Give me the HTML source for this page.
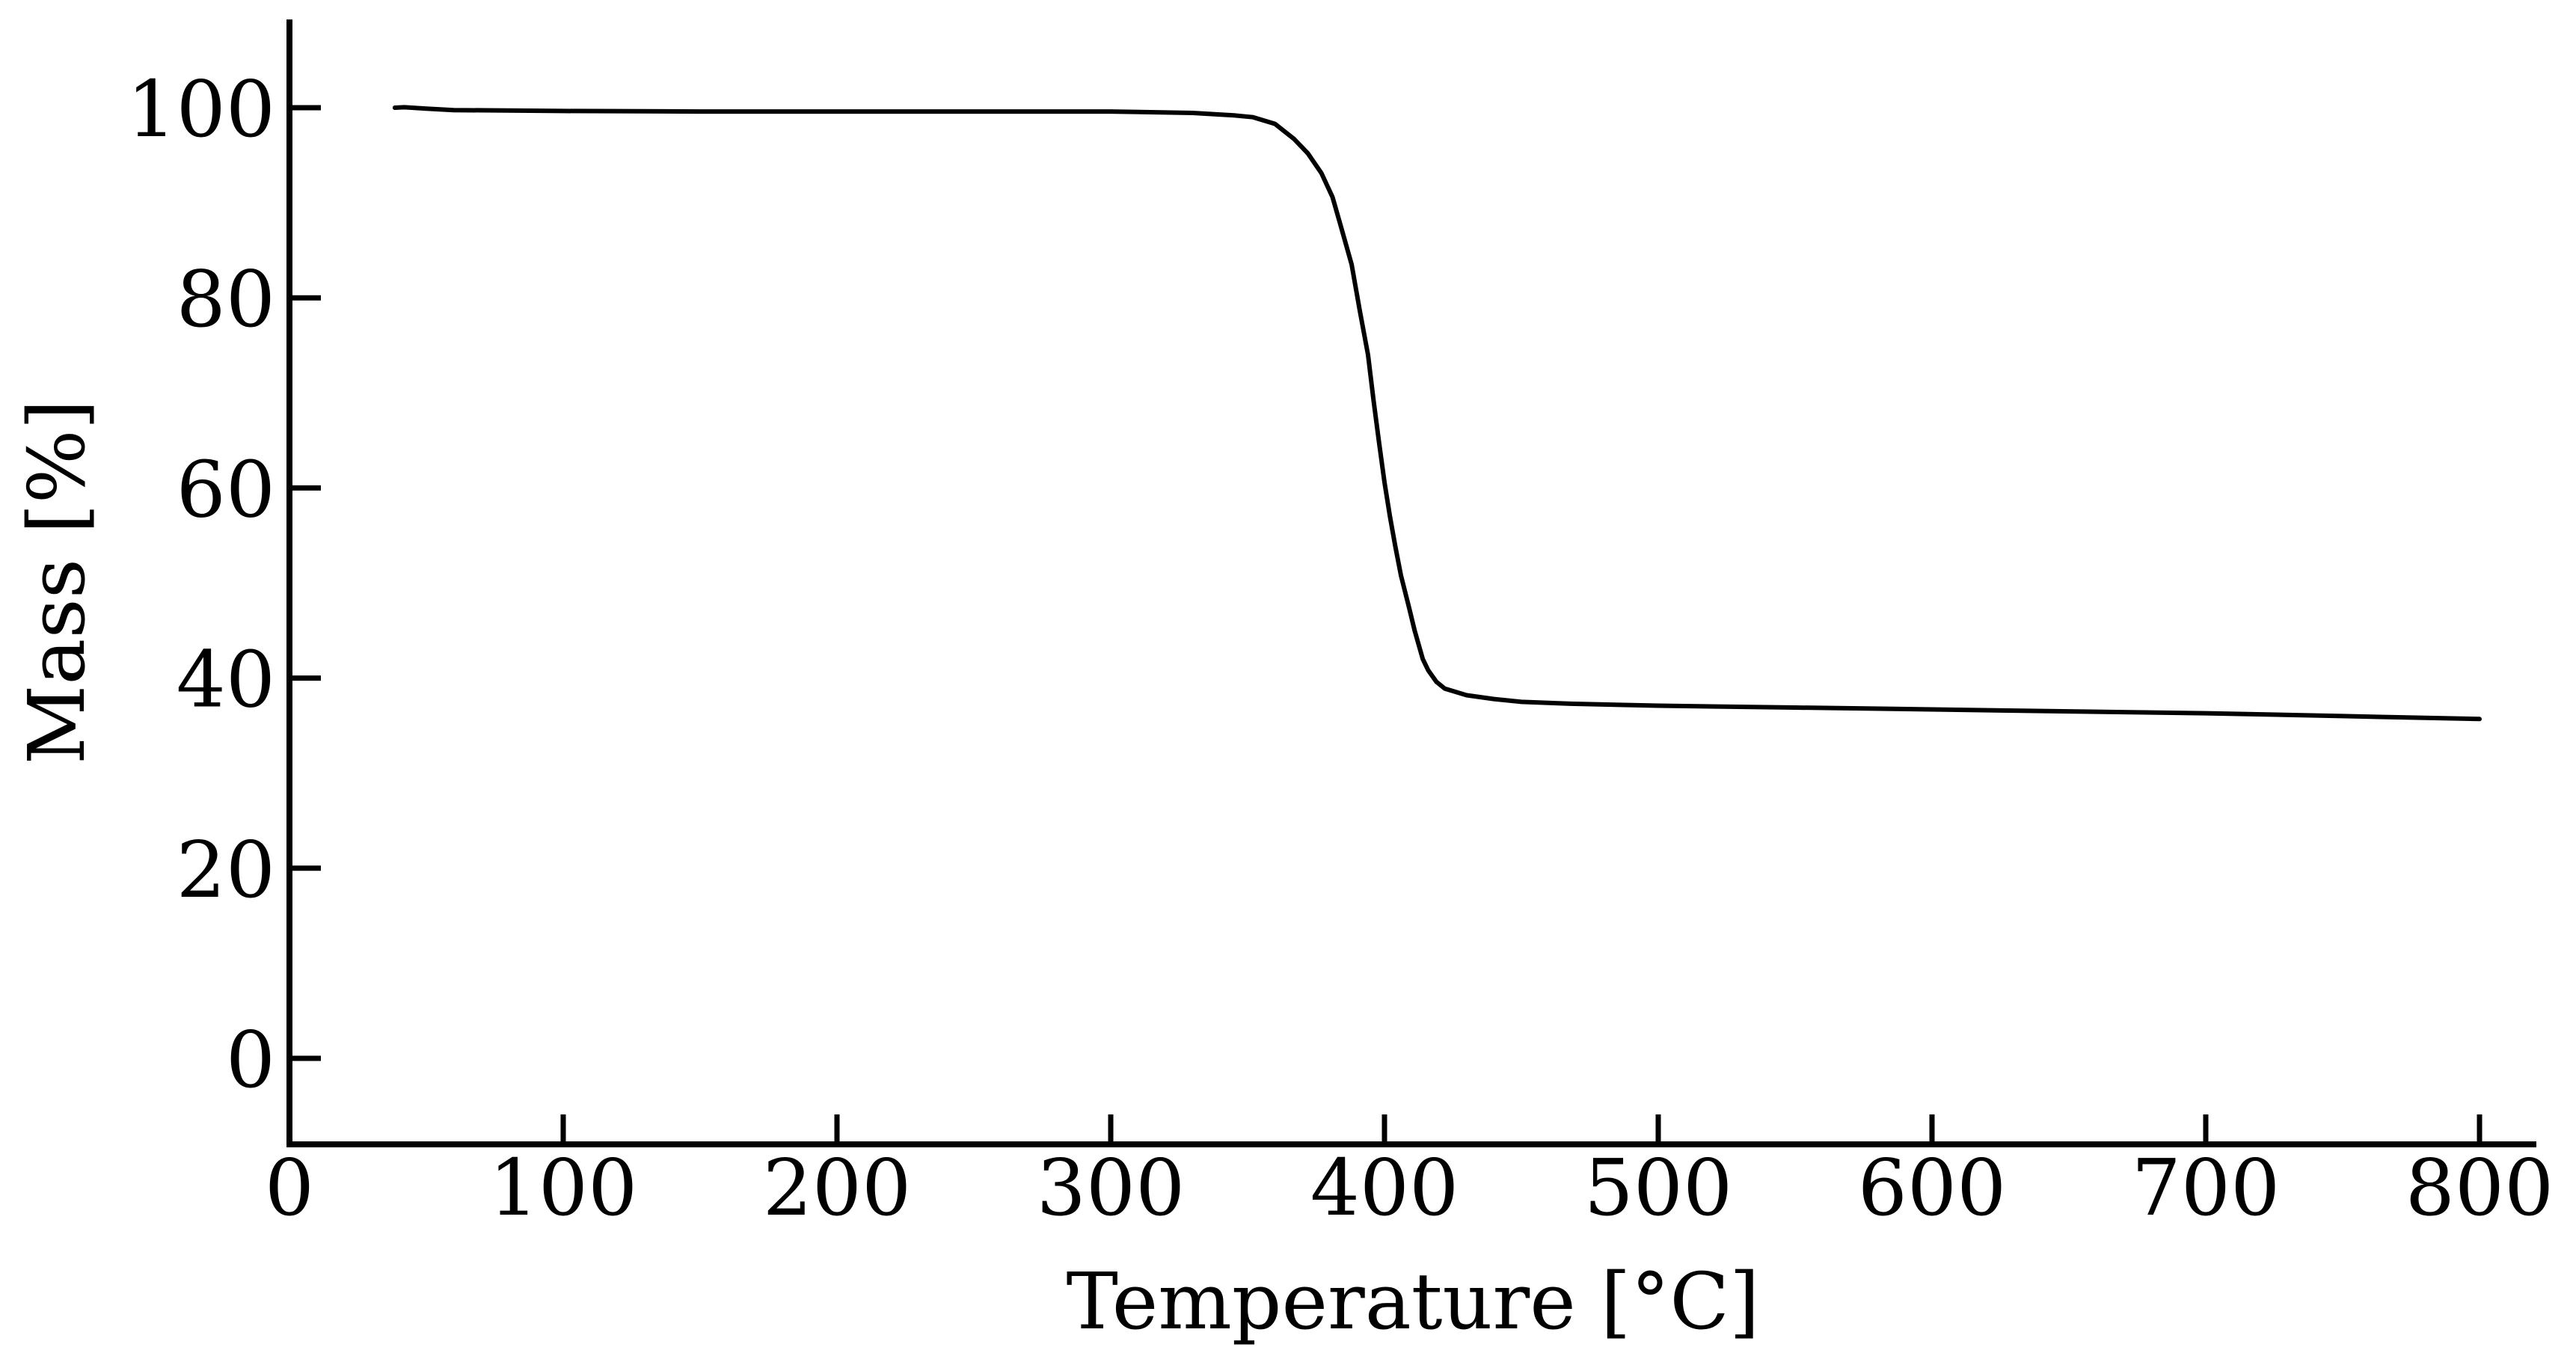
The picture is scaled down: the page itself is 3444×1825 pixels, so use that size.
<!DOCTYPE html>
<html><head><meta charset="utf-8"><style>
html,body{margin:0;padding:0;background:#fff;}
svg text{font-family:"DejaVu Serif","Liberation Serif",serif;fill:#000;}
</style></head><body>
<svg id="chart" width="3444" height="1820" viewBox="0 0 3444 1820" xmlns="http://www.w3.org/2000/svg">
<g id="plot"></g>
</svg>
<script>
const temps = [38.5,42,50,60,100,150,200,250,300,330,345,352,360,367,372,377,381,384,388,391,394,396,398,400,402,404,406,409,411,414,416,419,422,430,440,450,468,500,550,600,650,700,750,800];
const masses = [100.0,100.05,99.9,99.75,99.65,99.6,99.6,99.6,99.6,99.45,99.2,99.0,98.3,96.7,95.2,93.1,90.6,87.6,83.5,78.6,74.0,69.2,64.8,60.6,57.0,53.8,50.8,47.4,45.0,42.0,40.8,39.6,38.9,38.2,37.8,37.5,37.3,37.1,36.9,36.7,36.5,36.3,36.0,35.7];
const xTicks = [0,100,200,300,400,500,600,700,800];
const yTicks = [0,20,40,60,80,100];

const X0=387, XS=3.66, Y0=1415, YS=12.71;
const x = t => X0 + t*XS;
const y = m => Y0 - m*YS;
const NS='http://www.w3.org/2000/svg';
const g=document.getElementById('plot');
function mk(tag,attrs){const e=document.createElementNS(NS,tag);for(const k in attrs)e.setAttribute(k,attrs[k]);g.appendChild(e);return e;}

const yAxis=mk('line',{x1:387,y1:26,x2:387,y2:1534,stroke:'#000','stroke-width':8});


const xAxis=mk('line',{x1:383,y1:1530,x2:3391,y2:1530,stroke:'#000','stroke-width':8});



xTicks.forEach(t=>{
  const tk=mk('line',{x1:x(t),y1:1530,x2:x(t),y2:1490,stroke:'#000','stroke-width':7});
  
  
  const lb=mk('text',{x:x(t),y:1624,'font-size':104,'text-anchor':'middle'});
  lb.textContent=t;
  
  
});
yTicks.forEach(v=>{
  const tk=mk('line',{x1:387,y1:y(v),x2:429,y2:y(v),stroke:'#000','stroke-width':7});
  
  
  const lb=mk('text',{x:368,y:y(v)+38,'font-size':104,'text-anchor':'end'});
  lb.textContent=v;
  
  
});

let d='';
temps.forEach((t,i)=>{d+=(i?'L':'M')+x(t).toFixed(1)+','+y(masses[i]).toFixed(1);});
const line=mk('path',{d:d,fill:'none',stroke:'#000','stroke-width':6,'stroke-linejoin':'round','stroke-linecap':'round'});



const xl=mk('text',{x:1889,y:1776,'font-size':104,'text-anchor':'middle'});
xl.textContent='Temperature [°C]';


const yl=mk('text',{x:0,y:0,'font-size':104,'text-anchor':'middle',transform:'translate(112,778) rotate(-90)'});
yl.textContent='Mass [%]';


</script>
</body></html>
